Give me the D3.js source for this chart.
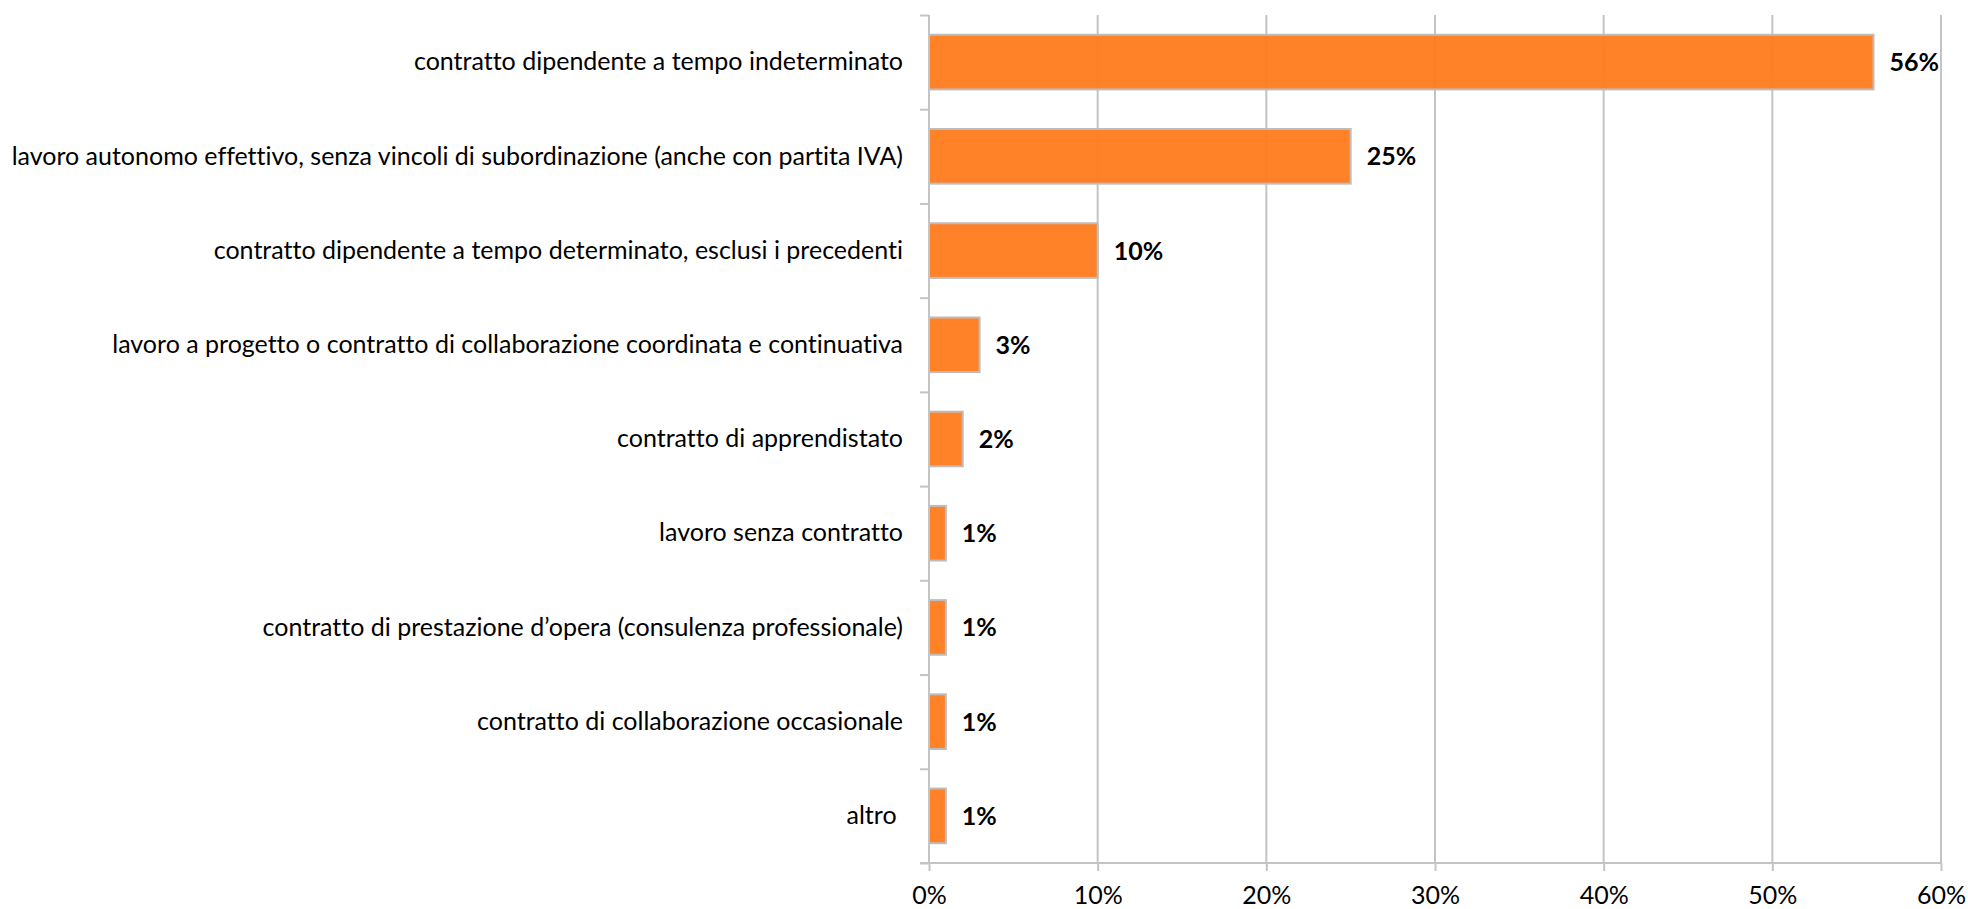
<!DOCTYPE html>
<html>
<head>
<meta charset="utf-8">
<script src="https://cdn.jsdelivr.net/npm/d3@7"></script>
<style>
  body { margin: 0; background: #fff; }
  svg text { font-family: Lato, "Open Sans", sans-serif; fill: #000; font-variant-ligatures: none; font-feature-settings: "liga" 0, "clig" 0; }
</style>
</head>
<body>
<svg width="1968" height="909"></svg>
<script>
const width = 1968;
const height = 909;

const categories = [
  "contratto dipendente a tempo indeterminato",
  "lavoro autonomo effettivo, senza vincoli di subordinazione (anche con partita IVA)",
  "contratto dipendente a tempo determinato, esclusi i precedenti",
  "lavoro a progetto o contratto di collaborazione coordinata e continuativa",
  "contratto di apprendistato",
  "lavoro senza contratto",
  "contratto di prestazione d\u2019opera (consulenza professionale)",
  "contratto di collaborazione occasionale",
  "altro\u00a0"
];
const values = [0.56, 0.25, 0.10, 0.03, 0.02, 0.01, 0.01, 0.01, 0.01];
const xTicks = [0, 0.1, 0.2, 0.3, 0.4, 0.5, 0.6];

const margin = { top: 15, right: 27, bottom: 46, left: 929 };

const x = d3.scaleLinear()
  .domain([0, 0.6])
  .range([margin.left, width - margin.right]);

const y = d3.scaleBand()
  .domain(categories)
  .range([margin.top, height - margin.bottom])
  .paddingInner(0.42)
  .paddingOuter(0.21);

const svg = d3.select("svg");

// gridlines
svg.append("g")
  .selectAll("line")
  .data(xTicks.slice(1))
  .join("line")
  .attr("x1", d => x(d))
  .attr("x2", d => x(d))
  .attr("y1", margin.top)
  .attr("y2", height - margin.bottom)
  .attr("stroke", "#c4c4c4")
  .attr("stroke-width", 2);

// bars
svg.append("g")
  .selectAll("rect")
  .data(values)
  .join("rect")
  .attr("x", x(0))
  .attr("y", (d, i) => y(categories[i]))
  .attr("width", d => x(d) - x(0))
  .attr("height", y.bandwidth())
  .attr("fill", "#ff7a1c")
  .attr("fill-opacity", 0.94)
  .attr("stroke", "#bdbdbd")
  .attr("stroke-width", 2);

// value labels
svg.append("g")
  .selectAll("text")
  .data(values)
  .join("text")
  .attr("x", d => x(d) + 16)
  .attr("y", (d, i) => y(categories[i]) + y.bandwidth() / 2)
  .attr("dy", "0.36em")
  .attr("font-size", 25)
  .attr("font-weight", "bold")
  .text(d => d3.format(".0%")(d));

// y axis
const yAxis = d3.axisLeft(d3.scaleLinear().domain([0, categories.length]).range([margin.top, height - margin.bottom]))
  .tickValues(d3.range(0, categories.length + 1))
  .tickSize(9)
  .tickFormat("");

svg.append("g")
  .attr("transform", `translate(${x(0)},0)`)
  .call(yAxis)
  .call(g => g.selectAll("line, path").attr("stroke", "#c4c4c4").attr("stroke-width", 2))
  .call(g => g.select(".domain").attr("d", `M0,${margin.top}V${height - margin.bottom}`));

// category labels
svg.append("g")
  .selectAll("text")
  .data(categories)
  .join("text")
  .attr("x", x(0) - 26)
  .attr("y", d => y(d) + y.bandwidth() / 2)
  .attr("dy", "0.33em")
  .attr("text-anchor", "end")
  .attr("font-size", 25)
  .style("white-space", "pre")
  .text(d => d);

// x axis
const xAxis = d3.axisBottom(x)
  .tickValues(xTicks)
  .tickSize(8)
  .tickSizeOuter(0)
  .tickPadding(15)
  .tickFormat(d3.format(".0%"));

svg.append("g")
  .attr("transform", `translate(0,${height - margin.bottom})`)
  .call(xAxis)
  .call(g => g.selectAll("line, path").attr("stroke", "#c4c4c4").attr("stroke-width", 2))
  .call(g => g.select(".domain").attr("d", `M${x(0) - 9},0H${x(0.6)}`))
  .call(g => g.selectAll("text").attr("font-size", 25).attr("fill", "#000"));
</script>
</body>
</html>
